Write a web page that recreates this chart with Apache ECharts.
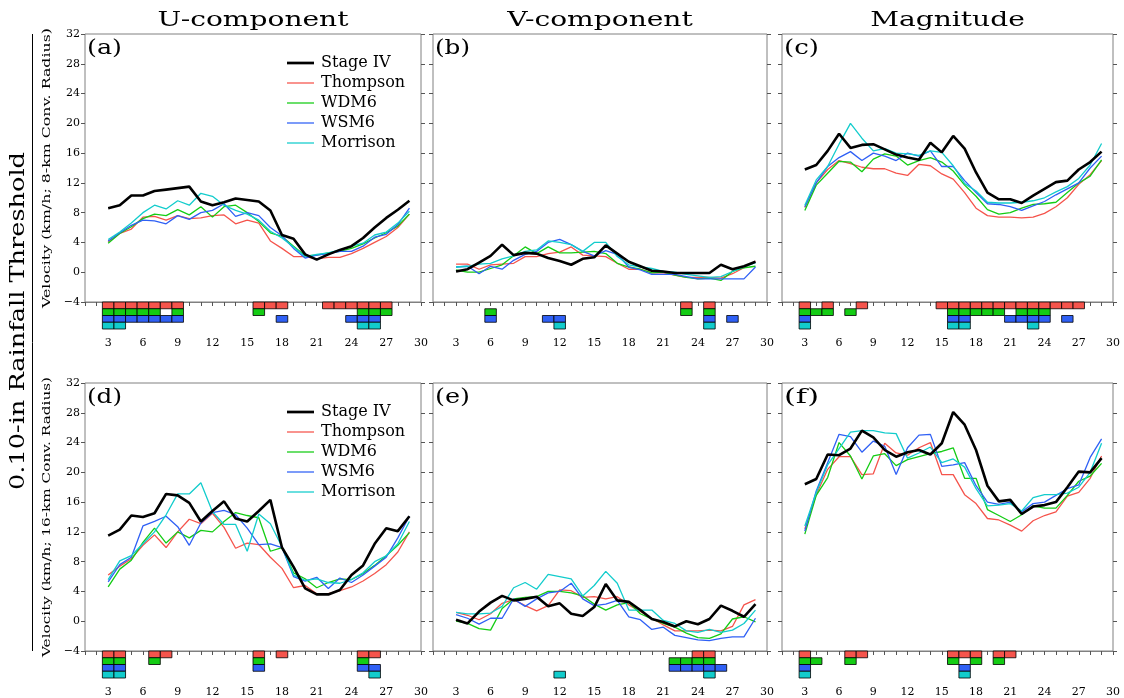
<!DOCTYPE html>
<html>
<head>
<meta charset="utf-8">
<script src="https://cdn.jsdelivr.net/npm/echarts@6/dist/echarts.min.js"></script>
<style>
html,body{margin:0;padding:0;background:#fff;}
#chart{width:1124px;height:698px;}
</style>
</head>
<body>
<div id="chart"></div>
<script>
// ---------- DATA ----------
const xs = [3,4,5,6,7,8,9,10,11,12,13,14,15,16,17,18,19,20,21,22,23,24,25,26,27,28,29];
const modelNames = ['Stage IV','Thompson','WDM6','WSM6','Morrison'];
const colTitles = ['U-component','V-component','Magnitude'];
const panelLetters = ['(a)','(b)','(c)','(d)','(e)','(f)'];
const rowNames = ['Velocity (km/h; 8-km Conv. Radius)','Velocity (km/h; 16-km Conv. Radius)'];
const sideTitle = '0.10-in Rainfall Threshold';
const xLabelTicks = [3,6,9,12,15,18,21,24,27,30];

// (a) U-component, 8 km
const aStage = [8.6,9.0,10.3,10.3,10.9,11.1,11.3,11.5,9.5,9.0,9.4,9.9,9.7,9.5,8.3,5.0,4.5,2.4,1.7,2.4,3.0,3.5,4.6,6.0,7.3,8.4,9.6];
const aThom  = [4.1,5.2,5.8,7.4,7.5,7.0,7.6,7.2,7.3,7.6,7.7,6.5,7.0,6.6,4.2,3.2,2.1,2.1,1.8,2.0,2.0,2.5,3.2,4.0,4.8,6.0,7.8];
const aWdm   = [3.9,5.2,6.1,7.2,7.8,7.6,8.4,7.7,8.8,7.4,8.8,9.0,8.0,6.8,5.3,4.8,3.5,2.2,2.3,2.6,2.8,3.2,3.8,4.6,5.3,6.2,7.8];
const aWsm   = [4.2,5.3,6.3,7.0,6.9,6.5,7.6,7.1,8.0,8.3,9.2,7.5,8.0,7.6,6.0,4.9,3.2,1.9,2.3,2.5,2.8,2.8,3.5,4.7,5.1,6.4,8.6];
const aMor   = [4.4,5.4,6.6,8.0,9.0,8.5,9.6,9.0,10.6,10.2,9.0,8.3,7.8,7.0,5.5,4.6,3.4,2.1,2.4,2.6,3.0,3.5,3.9,5.0,5.4,6.6,8.2];
// (b) V-component, 8 km
const bStage = [0.1,0.4,1.3,2.2,3.7,2.3,2.6,2.5,1.9,1.5,1.0,1.8,2.0,3.6,2.5,1.4,0.8,0.2,0.1,-0.1,-0.1,-0.1,-0.1,1.0,0.4,0.8,1.4];
const bThom  = [1.1,1.1,0.4,1.0,1.1,1.2,2.1,2.1,2.5,2.7,3.4,2.3,2.2,2.1,1.2,0.4,0.4,-0.1,-0.1,-0.4,-0.7,-0.7,-0.7,-0.8,-0.2,0.6,1.5];
const bWdm   = [0.3,0.0,0.0,0.5,1.0,2.2,3.4,2.5,3.4,2.6,2.6,2.7,2.8,2.5,1.2,0.7,0.4,-0.1,0.0,-0.4,-0.7,-0.9,-0.8,-1.1,0.1,0.6,0.8];
const bWsm   = [0.7,0.8,-0.2,0.8,0.4,1.6,2.4,2.8,4.0,4.4,3.7,2.8,2.2,2.9,2.4,0.7,0.3,-0.3,-0.3,-0.3,-0.6,-0.9,-0.9,-0.9,-0.9,-0.9,0.7];
const bMor   = [0.7,0.8,1.1,1.2,1.8,2.2,2.8,3.0,4.2,4.0,3.7,2.8,4.0,4.0,2.1,1.0,0.7,0.5,0.1,0.0,-0.3,-0.5,-0.7,-0.6,0.1,0.7,1.3];
// (c) Magnitude, 8 km
const cStage = [13.8,14.4,16.3,18.6,16.7,17.1,17.2,16.5,15.8,15.4,15.1,17.4,16.1,18.3,16.6,13.4,10.7,9.8,9.8,9.3,10.3,11.2,12.1,12.3,13.8,14.8,16.2];
const cThom  = [8.7,12.0,13.8,15.0,14.6,14.1,13.9,13.9,13.3,13.0,14.5,14.3,13.2,12.5,10.7,8.6,7.6,7.4,7.4,7.3,7.4,7.9,8.8,10.0,11.8,13.1,15.0];
const cWdm   = [8.3,11.7,13.3,14.9,14.8,13.5,15.2,15.9,15.6,14.4,15.0,15.4,14.8,13.6,11.7,10.2,8.4,7.8,8.0,8.6,9.1,9.2,9.4,10.7,12.0,12.9,15.1];
const cWsm   = [8.8,12.0,14.2,15.4,16.2,15.0,16.0,15.6,15.0,16.0,15.6,16.3,14.2,14.2,12.3,10.7,9.2,9.1,8.8,8.3,8.9,9.5,10.4,11.2,12.0,14.0,15.6];
const cMor   = [9.0,12.4,14.2,17.2,20.0,18.0,16.3,16.6,16.0,15.9,15.7,16.3,16.1,14.3,11.9,10.9,9.4,9.3,9.3,9.4,9.6,10.0,10.8,11.5,12.6,14.4,17.3];
// (d) U-component, 16 km
const dStage = [11.5,12.3,14.2,14.0,14.5,17.1,16.9,15.9,13.4,14.8,16.1,13.8,13.4,14.8,16.3,9.9,7.3,4.4,3.6,3.6,4.2,6.2,7.5,10.4,12.5,12.1,14.1];
const dThom  = [6.2,7.4,8.4,10.2,11.6,9.9,12.0,13.7,13.1,14.5,12.6,9.8,10.5,10.3,8.6,7.1,4.5,4.8,3.7,3.7,4.1,4.6,5.4,6.4,7.6,9.3,12.0];
const dWdm   = [4.6,7.0,8.2,10.6,12.5,10.5,12.0,11.2,12.2,12.0,13.4,14.6,14.2,13.9,9.4,9.9,6.5,5.7,4.5,5.2,5.7,5.6,6.4,7.5,8.8,10.2,11.9];
const dWsm   = [5.3,7.6,8.6,12.8,13.4,14.1,12.7,10.2,13.2,14.6,14.9,14.3,12.5,10.3,10.4,9.9,6.0,5.4,5.9,4.4,5.8,5.2,6.2,7.4,8.6,11.2,14.1];
const dMor   = [5.6,8.1,8.8,10.4,12.0,14.3,17.1,17.1,18.6,14.7,13.0,13.0,9.4,14.4,13.1,10.0,6.2,5.5,5.7,5.2,5.1,5.6,6.5,8.0,8.8,10.4,13.4];
// (e) V-component, 16 km
const eStage = [0.2,-0.3,1.3,2.5,3.4,2.8,3.0,3.3,2.0,2.4,1.0,0.7,1.9,5.0,2.8,2.6,1.5,0.3,-0.1,-0.7,0.0,-0.4,0.3,2.1,1.4,0.6,2.3];
const eThom  = [1.2,0.8,0.2,1.0,2.4,2.9,2.1,1.4,2.1,4.2,4.1,3.2,3.3,3.0,3.3,2.2,1.3,0.4,-0.5,-1.3,-1.3,-1.3,-1.2,-1.3,-0.7,2.2,2.9];
const eWdm   = [0.0,-0.3,-1.0,-1.2,1.7,3.0,3.2,3.3,4.0,4.0,3.8,3.4,2.3,1.5,2.2,2.5,1.0,0.3,-0.3,-0.8,-1.6,-2.2,-2.3,-1.7,0.3,0.6,-0.1];
const eWsm   = [0.9,0.4,-0.4,0.4,0.4,3.0,2.0,3.0,3.8,4.0,5.1,3.0,2.1,2.3,2.8,0.6,0.2,-1.1,-0.8,-1.9,-2.2,-2.5,-2.6,-2.3,-2.1,-2.1,0.4];
const eMor   = [1.2,1.0,1.0,1.1,2.0,4.5,5.2,4.3,6.3,6.0,5.7,3.4,4.8,6.7,5.1,1.5,1.5,1.5,0.1,-0.3,-1.3,-1.5,-1.1,-1.5,-1.2,-0.3,1.5];
// (f) Magnitude, 16 km
const fStage = [18.4,19.1,22.4,22.3,23.2,25.6,24.7,23.0,22.1,22.7,23.0,22.4,23.9,28.1,26.4,23.0,18.2,16.1,16.3,14.4,15.4,15.6,16.0,18.0,20.1,20.0,21.9];
const fThom  = [12.4,17.0,20.4,22.1,22.1,19.7,19.8,23.9,22.6,22.3,23.3,24.0,19.7,19.7,17.0,15.8,13.8,13.6,12.9,12.1,13.5,14.2,14.7,16.8,17.3,19.2,22.2];
const fWdm   = [11.7,16.9,19.3,24.0,22.2,19.1,22.2,22.5,20.9,21.7,22.1,22.5,22.8,23.3,19.2,19.2,15.0,14.2,13.4,14.3,15.5,15.2,15.2,16.9,18.8,19.5,21.2];
const fWsm   = [12.1,17.5,21.3,25.1,24.8,22.7,24.2,23.5,19.7,23.3,25.0,25.1,20.8,21.0,21.3,18.2,16.0,15.7,16.0,14.7,15.8,16.0,16.9,17.8,18.3,22.0,24.5];
const fMor   = [12.8,17.3,21.0,23.2,25.4,25.6,25.6,25.3,25.2,21.9,22.6,23.4,21.3,21.8,20.7,17.8,15.5,15.6,15.8,14.8,16.6,17.0,17.0,17.2,18.0,20.0,23.9];

// significance boxes: rows = Thompson, WDM6, WSM6, Morrison (x positions)
const sigA = [[3,4,5,6,7,8,9,16,17,18,22,23,24,25,26,27],[3,4,5,6,7,9,16,25,26,27],[3,4,5,6,7,8,9,18,24,25,26],[3,4,25,26]];
const sigB = [[23,25],[6,23,25],[6,11,12,25,27],[12,25]];
const sigC = [[3,5,8,15,16,17,18,19,20,21,22,23,24,25,26,27],[3,4,5,7,16,17,18,19,20,22,23,24],[3,16,17,21,22,23,24,26],[3,16,17,23]];
const sigD = [[3,4,7,8,16,18,25,26],[3,4,7,16,25],[3,4,16,25,26],[3,4,26]];
const sigE = [[24,25],[22,23,24,25],[22,23,24,25,26],[12,25]];
const sigF = [[3,7,8,16,17,18,20,21],[3,4,7,16,18,20],[3,17],[3,17]];

// ---------- STYLE / LAYOUT ----------
const lineColors = ['#000000','#f5544c','#14cc14','#2f60f5','#12cccc'];
const boxColors = ['#f5544c','#14cc14','#2f60f5','#12cccc'];
const frameColor = '#808080';
const serif = 'DejaVu Serif';
const cols = [{l:85,r:421},{l:433,r:767},{l:782,r:1113}];
const rows = [{top:34,zero:302,axis:329},{top:383,zero:651,axis:678}];

const panels = [
  {lines:[aStage,aThom,aWdm,aWsm,aMor], sig:sigA},
  {lines:[bStage,bThom,bWdm,bWsm,bMor], sig:sigB},
  {lines:[cStage,cThom,cWdm,cWsm,cMor], sig:sigC},
  {lines:[dStage,dThom,dWdm,dWsm,dMor], sig:sigD},
  {lines:[eStage,eThom,eWdm,eWsm,eMor], sig:sigE},
  {lines:[fStage,fThom,fWdm,fWsm,fMor], sig:sigF}
];

function measure(text, size){
  const c = document.createElement('canvas').getContext('2d');
  c.font = size + 'px "' + serif + '"';
  return c.measureText(text).width;
}

const grid = [], xAxis = [], yAxis = [], series = [], graphic = [], legend = [];

panels.forEach((p, pi) => {
  const r = rows[Math.floor(pi/3)], c = cols[pi%3];
  const colIdx = pi % 3;
  const gMain = grid.length;
  grid.push({left:c.l, top:r.top, width:c.r-c.l, height:r.zero-r.top, show:true,
    borderColor:frameColor, borderWidth:1, backgroundColor:'transparent'});
  const gSig = grid.length;
  grid.push({left:c.l, top:r.zero, width:c.r-c.l, height:r.axis-r.zero, show:false});

  const xMain = xAxis.length;
  xAxis.push({gridIndex:gMain, type:'value', min:1, max:30, show:false});
  const xSig = xAxis.length;
  xAxis.push({gridIndex:gSig, type:'value', min:1, max:30, interval:1, position:'bottom',
    axisLine:{show:true, lineStyle:{color:frameColor, width:1}},
    axisTick:{show:true, inside:false, length:4, lineStyle:{color:'#555'}},
    splitLine:{show:false},
    axisLabel:{show:true, margin:9, color:'#000', fontFamily:serif, fontSize:11,
      showMinLabel:true, showMaxLabel:true,
      formatter: v => xLabelTicks.indexOf(v) >= 0 ? String(v) : ''}
  });

  const yMain = yAxis.length;
  yAxis.push({gridIndex:gMain, type:'value', min:-4, max:32, interval:4, position:'left',
    axisLine:{show:false}, splitLine:{show:false},
    axisTick:{show:true, inside:false, length:4, lineStyle:{color:'#555'}},
    axisLabel:{show: colIdx===0, margin:5, color:'#000', fontFamily:serif, fontSize:11,
      formatter: v => v < 0 ? '\u2212' + Math.abs(v) : String(v)}
  });
  yAxis.push({gridIndex:gMain, type:'value', min:-4, max:32, interval:4, position:'right',
    axisLine:{show:false}, splitLine:{show:false},
    axisTick:{show:true, inside:false, length:4, lineStyle:{color:'#555'}},
    axisLabel:{show:false}
  });
  const ySig = yAxis.length;
  yAxis.push({gridIndex:gSig, type:'value', min:0, max:4, inverse:true, show:false});

  // lines: models first, Stage IV on top
  [1,2,3,4,0].forEach(mi => {
    series.push({
      type:'line', name:modelNames[mi], xAxisIndex:xMain, yAxisIndex:yMain,
      data: xs.map((x,i) => [x, p.lines[mi][i]]),
      symbol:'none', showSymbol:false, animation:false, clip:true,
      z: mi===0 ? 5 : 3,
      lineStyle:{color:lineColors[mi], width: mi===0 ? 2.6 : 1.3},
      itemStyle:{color:lineColors[mi]}
    });
  });

  // significance boxes
  p.sig.forEach((list, ri) => {
    series.push({
      type:'custom', xAxisIndex:xSig, yAxisIndex:ySig, animation:false, silent:true,
      data: list.map(x => [x, ri]),
      renderItem: (params, api) => {
        const x = api.value(0), rr = api.value(1);
        const p0 = api.coord([x-0.5, rr]);
        const p1 = api.coord([x+0.5, rr+1]);
        return {type:'rect',
          shape:{x:p0[0], y:Math.min(p0[1],p1[1]), width:p1[0]-p0[0], height:Math.abs(p1[1]-p0[1])},
          style:{fill:boxColors[ri], stroke:'#000', lineWidth:0.8}};
      }
    });
  });

  // panel letter
  const lw = measure(panelLetters[pi], 21);
  graphic.push({type:'text', x:c.l+2, y:r.top+15, scaleX:35/lw, silent:true,
    style:{text:panelLetters[pi], fontFamily:serif, fontSize:21, fill:'#000', align:'left', verticalAlign:'middle'}});
});

// legends in (a) and (d)
const legendItems = modelNames.map((n, i) => ({
  name:n,
  icon: i === 0 ? 'path://M0,0H30V3H0Z' : 'path://M0,0H30V1.4H0Z'
}));
rows.forEach(r => {
  legend.push({orient:'vertical', left:282, top:r.top+16, itemWidth:27, itemHeight:14, itemGap:4,
    symbolKeepAspect:true, selectedMode:false, data:legendItems,
    textStyle:{fontFamily:serif, fontSize:16, lineHeight:14, color:'#000', padding:[0,0,0,2]}});
});

// column titles
const tScale = 191 / measure(colTitles[0], 21);
colTitles.forEach((t, i) => {
  graphic.push({type:'text', x:(cols[i].l+cols[i].r)/2, y:21, scaleX:tScale, silent:true,
    style:{text:t, fontFamily:serif, fontSize:21, fill:'#000', align:'center', verticalAlign:'middle'}});
});
// row axis names
rowNames.forEach((t, i) => {
  const r = rows[i];
  const s = 280 / measure(t, 11);
  graphic.push({type:'text', x:47, y:(r.top+r.zero)/2, rotation:Math.PI/2, scaleX:s, silent:true,
    style:{text:t, fontFamily:serif, fontSize:11, fill:'#000', align:'center', verticalAlign:'middle'}});
});
// side title and bracket line
graphic.push({type:'text', x:19, y:321, rotation:Math.PI/2, scaleX:338/measure(sideTitle, 21), silent:true,
  style:{text:sideTitle, fontFamily:serif, fontSize:21, fill:'#000', align:'center', verticalAlign:'middle'}});
graphic.push({type:'line', silent:true, shape:{x1:32.5, y1:34, x2:32.5, y2:651}, style:{stroke:'#000', lineWidth:1}});

const chart = echarts.init(document.getElementById('chart'), null, {renderer:'canvas'});
chart.setOption({
  animation:false,
  backgroundColor:'#ffffff',
  grid, xAxis, yAxis, series, legend, graphic
});
</script>
</body>
</html>
